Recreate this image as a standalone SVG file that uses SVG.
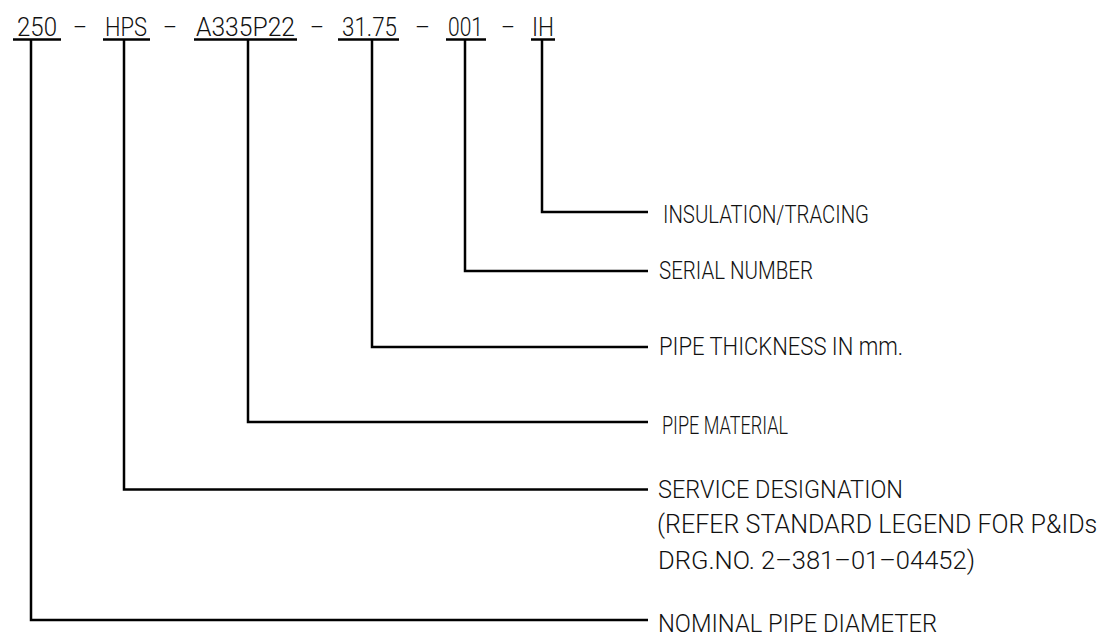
<svg xmlns="http://www.w3.org/2000/svg" width="1106" height="641" viewBox="0 0 1106 641">
<style>
  text { font-family: Roboto, "Liberation Sans", Arial, sans-serif; font-weight: 300; fill: #111; }
  .code { font-size: 25px; }
  .desc { font-size: 26.5px; }
  .ul { stroke: #000; stroke-width: 2.5; fill: none; }
  .conn { stroke: #000; stroke-width: 2.5; fill: none; stroke-linejoin: miter; }
</style>
<rect width="1106" height="641" fill="#fff"/>

<g id="code-250">
  <text class="code" x="17" y="36" textLength="40" lengthAdjust="spacingAndGlyphs">250</text>
  <line class="ul" x1="13" y1="39.5" x2="61" y2="39.5"/>
</g>
<text class="code" x="73" y="36" textLength="14" lengthAdjust="spacingAndGlyphs">–</text>
<g id="code-hps">
  <text class="code" x="105" y="36" textLength="42" lengthAdjust="spacingAndGlyphs">HPS</text>
  <line class="ul" x1="103" y1="39.5" x2="150" y2="39.5"/>
</g>
<text class="code" x="163" y="36" textLength="14" lengthAdjust="spacingAndGlyphs">–</text>
<g id="code-a335p22">
  <text class="code" x="196" y="36" textLength="99" lengthAdjust="spacingAndGlyphs">A335P22</text>
  <line class="ul" x1="194" y1="39.5" x2="297" y2="39.5"/>
</g>
<text class="code" x="310" y="36" textLength="14" lengthAdjust="spacingAndGlyphs">–</text>
<g id="code-3175">
  <text class="code" x="342" y="36" textLength="55" lengthAdjust="spacingAndGlyphs">31.75</text>
  <line class="ul" x1="338" y1="39.5" x2="399" y2="39.5"/>
</g>
<text class="code" x="415" y="36" textLength="15" lengthAdjust="spacingAndGlyphs">–</text>
<g id="code-001">
  <text class="code" x="448" y="36" textLength="35" lengthAdjust="spacingAndGlyphs">001</text>
  <line class="ul" x1="446" y1="39.5" x2="486" y2="39.5"/>
</g>
<text class="code" x="501" y="36" textLength="14" lengthAdjust="spacingAndGlyphs">–</text>
<g id="code-ih">
  <text class="code" x="532" y="36" textLength="22" lengthAdjust="spacingAndGlyphs">IH</text>
  <line class="ul" x1="531" y1="39.5" x2="555" y2="39.5"/>
</g>

<g id="connectors">
  <polyline class="conn" points="542,39.5 542,212 648,212"/>
  <polyline class="conn" points="465,39.5 465,271 648,271"/>
  <polyline class="conn" points="372,39.5 372,347 648,347"/>
  <polyline class="conn" points="248,39.5 248,422 648,422"/>
  <polyline class="conn" points="124,39.5 124,489.5 648,489.5"/>
  <polyline class="conn" points="31,39.5 31,620 648,620"/>
</g>

<g id="desc-insulation">
  <text class="desc" x="663" y="223" textLength="206" lengthAdjust="spacingAndGlyphs">INSULATION/TRACING</text>
</g>
<g id="desc-serial">
  <text class="desc" x="659" y="279" textLength="154" lengthAdjust="spacingAndGlyphs">SERIAL NUMBER</text>
</g>
<g id="desc-thickness">
  <text class="desc" x="659" y="355" textLength="244" lengthAdjust="spacingAndGlyphs">PIPE THICKNESS IN mm.</text>
</g>
<g id="desc-material">
  <text class="desc" x="662" y="434" textLength="126" lengthAdjust="spacingAndGlyphs">PIPE MATERIAL</text>
</g>
<g id="desc-service">
  <text class="desc" x="658" y="498" textLength="245" lengthAdjust="spacingAndGlyphs">SERVICE DESIGNATION</text>
  <text class="desc" transform="translate(657,533) scale(0.86,1)" x="0" y="0" textLength="512" lengthAdjust="spacingAndGlyphs">(REFER STANDARD LEGEND FOR P&amp;IDs</text>
  <text class="desc" x="658" y="569" textLength="317" lengthAdjust="spacingAndGlyphs">DRG.NO. 2–381–01–04452)</text>
</g>
<g id="desc-nominal">
  <text class="desc" x="658" y="632" textLength="279" lengthAdjust="spacingAndGlyphs">NOMINAL PIPE DIAMETER</text>
</g>
</svg>
